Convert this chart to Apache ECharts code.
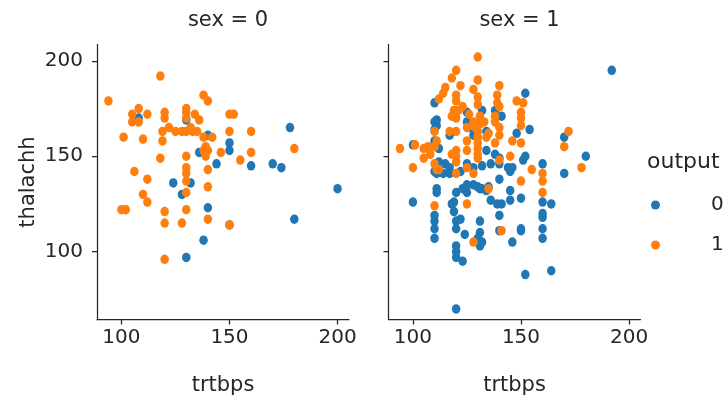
<!DOCTYPE html>
<html>
<head>
<meta charset="utf-8">
<script src="https://cdn.jsdelivr.net/npm/echarts@6/dist/echarts.min.js"></script>
<style>
  html, body { margin: 0; padding: 0; background: #fff; }
  #chart { width: 724px; height: 403px; }
</style>
</head>
<body>
<div id="chart"></div>
<script>
// Resting blood pressure (trtbps) vs. max heart rate (thalachh), split by sex and coloured by output
const facetTitles = ['sex = 0', 'sex = 1'];
const outputLevels = ['0', '1'];
const tickValues = [100, 150, 200];

// sex = 0, output = 0  [trtbps, thalachh]
const sex0Out0 = [
  [108,170],[130,169],[140,161],[136,152],[150,157],[150,153],[144,146],[160,145],
  [170,146],[174,144],[178,165],[124,136],[132,136],[128,130],[140,123],[150,114],
  [180,117],[200,133],[138,106],[130,97]
];
// sex = 0, output = 1
const sex0Out1 = [
  [94,179],[118,192],[138,182],[140,179],[105,172],[105,168],[108,175],[108,168],
  [112,172],[120,173],[120,170],[130,175],[130,173],[130,170],[134,172],[136,169],
  [150,172],[152,172],[101,160],[110,159],[119,163],[122,165],[125,163],[128,163],
  [130,163],[132,165],[133,163],[135,163],[138,160],[142,160],[119,158],[118,149],
  [130,150],[130,144],[130,141],[130,137],[138,153],[140,153],[139,150],[139,155],
  [140,143],[140,134],[140,117],[150,163],[146,152],[155,148],[160,163],[160,152],
  [180,154],[106,142],[112,138],[110,130],[112,126],[100,122],[102,122],[120,121],
  [120,115],[128,115],[130,122],[130,131],[150,114],[120,96]
];
// sex = 1, output = 0
const sex1Out0 = [
  [192,195],[100,156],[100,126],[110,178],[111,169],[111,166],[110,164],[110,158],
  [112,154],[111,141],[114,141],[117,141],[122,142],[110,142],[111,133],[111,131],
  [120,131],[119,126],[119,121],[110,119],[110,116],[110,112],[110,107],[120,116],
  [122,117],[120,112],[124,109],[120,103],[120,100],[120,97],[123,95],[120,70],
  [117,161],[118,125],[125,168],[126,165],[125,173],[128,161],[128,135],[131,133],
  [132,133],[125,135],[125,131],[131,116],[131,110],[130,107],[132,105],[131,103],
  [134,163],[132,174],[141,171],[138,174],[140,138],[145,142],[146,144],[151,148],
  [152,150],[145,132],[150,128],[136,127],[139,125],[141,125],[145,127],[140,111],
  [140,119],[146,105],[150,112],[150,111],[160,118],[160,112],[160,107],[152,88],
  [164,90],[152,183],[148,162],[154,164],[160,146],[160,126],[160,120],[164,125],
  [170,160],[170,141],[180,150],[115,146],[117,144],[125,146],[134,153],[138,151],
  [140,149],[144,144],[112,147],[128,144],[132,145],[136,146],[123,133],[134,132],
  [130,134],[135,134],[140,146],[110,168]
];
// sex = 1, output = 1
const sex1Out1 = [
  [130,202],[120,195],[118,191],[122,187],[115,186],[114,183],[112,180],[130,190],
  [128,185],[130,181],[130,177],[140,187],[139,182],[139,178],[140,176],[148,179],
  [151,178],[150,173],[150,170],[150,166],[150,157],[120,182],[120,179],[119,174],
  [121,174],[123,176],[118,171],[120,170],[126,172],[128,168],[131,171],[131,167],
  [133,168],[128,166],[117,163],[120,163],[125,165],[125,158],[130,163],[130,160],
  [130,157],[130,154],[130,151],[130,149],[134,160],[135,162],[138,171],[138,168],
  [140,165],[140,161],[138,157],[120,153],[120,150],[120,147],[118,151],[125,153],
  [125,144],[128,141],[120,141],[110,163],[111,158],[110,155],[105,154],[107,155],
  [105,149],[94,154],[101,156],[100,144],[108,151],[110,146],[111,143],[112,143],
  [140,148],[145,150],[146,158],[150,137],[155,143],[160,141],[160,137],[160,131],
  [170,155],[172,163],[178,144],[125,125],[110,124],[135,133],[141,111],[128,105]
];

const palette = ['#1f77b4', '#ff7f0e'];
const ink = '#262626';
const font = 'DejaVu Sans';

const chart = echarts.init(document.getElementById('chart'), null, { renderer: 'canvas' });

const grids = [
  { left: 97, top: 44.5, width: 252, height: 275 },
  { left: 388.5, top: 44.5, width: 252, height: 275 }
];

function xAxisFor(i) {
  return {
    gridIndex: i, type: 'value', min: 88.7, max: 205.3,
    name: 'trtbps', nameLocation: 'middle', nameGap: 56,
    nameTextStyle: { color: ink, fontFamily: font, fontSize: 21 },
    axisLine: { show: true, lineStyle: { color: ink, width: 1.25 } },
    axisTick: { show: true, length: 5, lineStyle: { color: ink, width: 1.25 }, customValues: tickValues },
    axisLabel: { color: ink, fontFamily: font, fontSize: 20, margin: 8, customValues: tickValues },
    splitLine: { show: false }
  };
}
function yAxisFor(i) {
  return {
    gridIndex: i, type: 'value', min: 64.45, max: 208.55,
    name: i === 0 ? 'thalachh' : '', nameLocation: 'middle', nameGap: 58,
    nameTextStyle: { color: ink, fontFamily: font, fontSize: 21 },
    axisLine: { show: true, lineStyle: { color: ink, width: 1.25 } },
    axisTick: { show: true, length: 5, lineStyle: { color: ink, width: 1.25 }, customValues: tickValues },
    axisLabel: { show: i === 0, color: ink, fontFamily: font, fontSize: 20, margin: 14, customValues: tickValues },
    splitLine: { show: false }
  };
}

function scatter(name, data, i, color) {
  return {
    type: 'scatter', name: name, xAxisIndex: i, yAxisIndex: i,
    data: data, symbol: 'circle', symbolSize: [8.5, 9.5],
    itemStyle: { color: color, opacity: 1 },
    emphasis: { disabled: true }, animation: false
  };
}

chart.setOption({
  backgroundColor: '#ffffff',
  animation: false,
  title: facetTitles.map((t, i) => ({
    text: t,
    left: grids[i].left + grids[i].width / 2, top: 5, textAlign: 'center',
    textStyle: { color: ink, fontFamily: font, fontSize: 21, fontWeight: 'normal' }
  })),
  grid: grids,
  xAxis: [xAxisFor(0), xAxisFor(1)],
  yAxis: [yAxisFor(0), yAxisFor(1)],
  legend: {
    data: outputLevels,
    orient: 'vertical', left: 646, top: 189,
    icon: 'circle', itemWidth: 9, itemHeight: 9, itemGap: 18,
    textStyle: { color: ink, fontFamily: font, fontSize: 20, lineHeight: 22, padding: [0, 0, 0, 46] }
  },
  graphic: [{
    type: 'text', left: 647, top: 151,
    style: { text: 'output', fill: ink, font: '22px "DejaVu Sans"' }
  }],
  series: [
    scatter(outputLevels[0], sex0Out0, 0, palette[0]),
    scatter(outputLevels[1], sex0Out1, 0, palette[1]),
    scatter(outputLevels[0], sex1Out0, 1, palette[0]),
    scatter(outputLevels[1], sex1Out1, 1, palette[1])
  ]
});
</script>
</body>
</html>
